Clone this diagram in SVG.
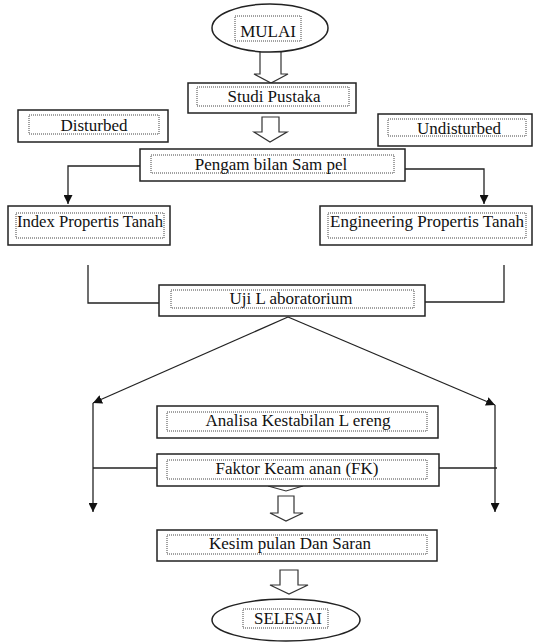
<svg xmlns="http://www.w3.org/2000/svg" width="539" height="642" viewBox="0 0 539 642">
<defs>
<marker id="ah" viewBox="0 0 10 10" refX="10" refY="5" markerWidth="9" markerHeight="9" markerUnits="userSpaceOnUse" orient="auto">
<path d="M0,0 L10,5 L0,10 z" fill="#111"/>
</marker>
</defs>
<style>
.box{fill:#fff;stroke:#222;stroke-width:1.5}
.dot{fill:none;stroke:#444;stroke-width:1;stroke-dasharray:1 1}
.t{font-family:'Liberation Serif','Times New Roman',serif;font-size:17px;fill:#111;text-anchor:middle}
.c{fill:none;stroke:#222;stroke-width:1.3}
.ba{fill:#fff;stroke:#333;stroke-width:1.2}
</style>
<rect width="539" height="642" fill="#fff"/>

<g id="connectors">
<path class="c" d="M140,166 H68 V204" marker-end="url(#ah)"/>
<path class="c" d="M405,169 H484 V204" marker-end="url(#ah)"/>
<path class="c" d="M88,265 V303 H159"/>
<path class="c" d="M504,265 V302 H425"/>
<path class="c" d="M288,317 L93,403" marker-end="url(#ah)"/>
<path class="c" d="M288,317 L495,405" marker-end="url(#ah)"/>
<path class="c" d="M93,403 V512" marker-end="url(#ah)"/>
<path class="c" d="M495,405 V512" marker-end="url(#ah)"/>
<path class="c" d="M93,468 H157"/>
<path class="c" d="M439,468 H497"/>
<path class="ba" d="M260,52 V74 H254 L271,83 L288,74 H281 V52"/>
<path class="ba" d="M262,117 V132 H254 L270,142 L287,132 H279 V117 Z"/>
<path class="ba" d="M268,486 L286,491 L303,486"/>
<path class="ba" d="M278,496 V513 H270 L286,521 L303,513 H294 V496 Z"/>
<path class="ba" d="M280,570 V585 H270 L289,594 L308,585 H298 V570 Z"/>
</g>

<g id="mulai">
<ellipse class="box" cx="270" cy="28" rx="58" ry="24"/>
<rect class="dot" x="235" y="16" width="66" height="25"/>
<text class="t" x="268" y="37" font-family="Liberation Serif, serif">MULAI</text>
</g>

<g id="studi">
<rect class="box" x="188" y="83" width="168" height="30"/>
<rect class="dot" x="197" y="87" width="152" height="19"/>
<text class="t" x="274" y="102" font-family="Liberation Serif, serif">Studi Pustaka</text>
</g>

<g id="disturbed">
<rect class="box" x="18" y="110" width="150" height="32"/>
<rect class="dot" x="29" y="115" width="130" height="19"/>
<text class="t" x="94" y="131" font-family="Liberation Serif, serif">Disturbed</text>
</g>

<g id="undisturbed">
<rect class="box" x="378" y="114" width="154" height="32"/>
<rect class="dot" x="388" y="119" width="138" height="17"/>
<text class="t" x="459" y="134" font-family="Liberation Serif, serif">Undisturbed</text>
</g>

<g id="pengambilan">
<rect class="box" x="140" y="149" width="265" height="32"/>
<rect class="dot" x="151" y="155" width="243" height="18"/>
<text class="t" x="271" y="170" font-family="Liberation Serif, serif">Pengam bilan Sam pel</text>
</g>

<g id="index">
<rect class="box" x="8" y="206" width="162" height="39"/>
<rect class="dot" x="16" y="213" width="148" height="25"/>
<text class="t" x="90" y="227" font-family="Liberation Serif, serif" textLength="146" lengthAdjust="spacingAndGlyphs">Index Propertis Tanah</text>
</g>

<g id="engineering">
<rect class="box" x="320" y="206" width="212" height="39"/>
<rect class="dot" x="328" y="213" width="198" height="25"/>
<text class="t" x="427" y="227" font-family="Liberation Serif, serif" textLength="194" lengthAdjust="spacingAndGlyphs">Engineering Propertis Tanah</text>
</g>

<g id="uji">
<rect class="box" x="159" y="285" width="266" height="31"/>
<rect class="dot" x="171" y="290" width="243" height="18"/>
<text class="t" x="291" y="304" font-family="Liberation Serif, serif">Uji L aboratorium</text>
</g>

<g id="analisa">
<rect class="box" x="157" y="406" width="281" height="32"/>
<rect class="dot" x="167" y="412" width="260" height="19"/>
<text class="t" x="298" y="426" font-family="Liberation Serif, serif">Analisa Kestabilan L ereng</text>
</g>

<g id="faktor">
<rect class="box" x="157" y="454" width="282" height="32"/>
<rect class="dot" x="167" y="460" width="260" height="19"/>
<text class="t" x="297" y="474" font-family="Liberation Serif, serif">Faktor Keam anan (FK)</text>
</g>

<g id="kesimpulan">
<rect class="box" x="157" y="530" width="280" height="31"/>
<rect class="dot" x="167" y="535" width="260" height="19"/>
<text class="t" x="290" y="549" font-family="Liberation Serif, serif">Kesim pulan Dan Saran</text>
</g>

<g id="selesai">
<ellipse class="box" cx="286" cy="620" rx="74" ry="21"/>
<rect class="dot" x="243" y="609" width="85" height="19"/>
<text class="t" x="288" y="624" font-family="Liberation Serif, serif">SELESAI</text>
</g>
</svg>
